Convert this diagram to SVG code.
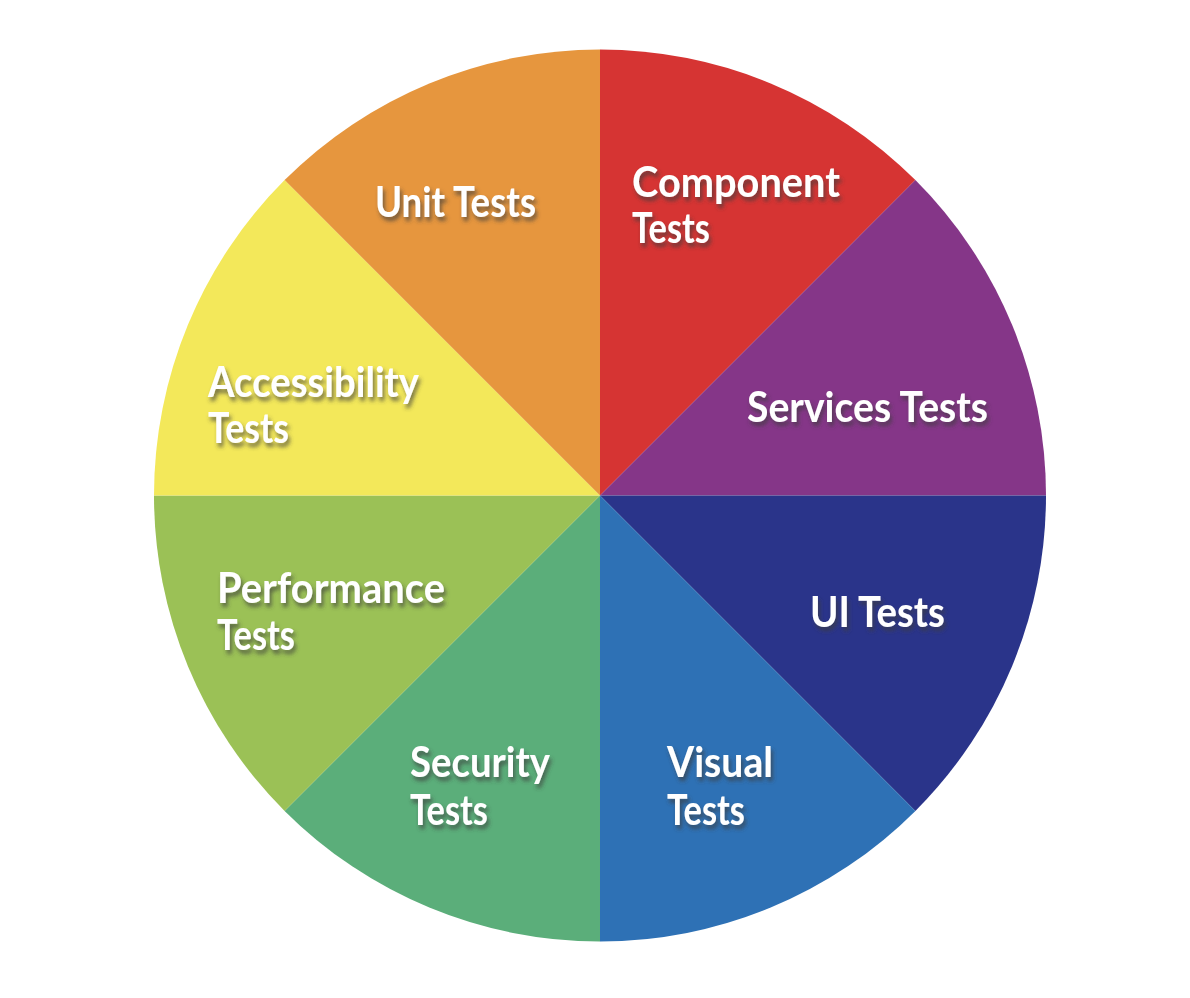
<svg xmlns="http://www.w3.org/2000/svg" width="1190" height="998" viewBox="0 0 1190 998">
  <defs>
    <filter id="sh" x="-10%" y="-20%" width="120%" height="150%">
      <feDropShadow dx="2" dy="4" stdDeviation="2" flood-color="#3a3a3a" flood-opacity="0.7"/>
    </filter>
  </defs>
  <style>
    .lbl { font-family: "Lato", "Liberation Sans", sans-serif; font-weight: 700; font-size: 42px; fill: #ffffff; filter: url(#sh); }
  </style>
  <rect x="0" y="0" width="1190" height="998" fill="#ffffff"/>
  <g id="component">
    <path d="M600,495.5 L600,49.5 A446,446 0 0 1 915.4,180.1 Z" fill="#D63433"/>
    <text class="lbl" x="632" y="197" textLength="208" lengthAdjust="spacingAndGlyphs">Component</text>
    <text class="lbl" x="632" y="243" textLength="78" lengthAdjust="spacingAndGlyphs">Tests</text>
  </g>
  <g id="services">
    <path d="M600,495.5 L915.4,180.1 A446,446 0 0 1 1046,495.5 Z" fill="#853688"/>
    <text class="lbl" x="747" y="422" textLength="241" lengthAdjust="spacingAndGlyphs">Services Tests</text>
  </g>
  <g id="ui">
    <path d="M600,495.5 L1046,495.5 A446,446 0 0 1 915.4,810.9 Z" fill="#2A348A"/>
    <text class="lbl" x="810" y="627" textLength="135" lengthAdjust="spacingAndGlyphs">UI Tests</text>
  </g>
  <g id="visual">
    <path d="M600,495.5 L915.4,810.9 A446,446 0 0 1 600,941.5 Z" fill="#2E71B5"/>
    <text class="lbl" x="667" y="777" textLength="106" lengthAdjust="spacingAndGlyphs">Visual</text>
    <text class="lbl" x="667" y="825" textLength="78" lengthAdjust="spacingAndGlyphs">Tests</text>
  </g>
  <g id="security">
    <path d="M600,495.5 L600,941.5 A446,446 0 0 1 284.6,810.9 Z" fill="#5BAE7A"/>
    <text class="lbl" x="410" y="777" textLength="140" lengthAdjust="spacingAndGlyphs">Security</text>
    <text class="lbl" x="410" y="825" textLength="78" lengthAdjust="spacingAndGlyphs">Tests</text>
  </g>
  <g id="performance">
    <path d="M600,495.5 L284.6,810.9 A446,446 0 0 1 154,495.5 Z" fill="#9BC156"/>
    <text class="lbl" x="217" y="603" textLength="228" lengthAdjust="spacingAndGlyphs">Performance</text>
    <text class="lbl" x="217" y="650" textLength="78" lengthAdjust="spacingAndGlyphs">Tests</text>
  </g>
  <g id="accessibility">
    <path d="M600,495.5 L154,495.5 A446,446 0 0 1 284.6,180.1 Z" fill="#F3E85A"/>
    <text class="lbl" x="208" y="397" textLength="211" lengthAdjust="spacingAndGlyphs">Accessibility</text>
    <text class="lbl" x="208" y="443" textLength="81" lengthAdjust="spacingAndGlyphs">Tests</text>
  </g>
  <g id="unit">
    <path d="M600,495.5 L284.6,180.1 A446,446 0 0 1 600,49.5 Z" fill="#E6963E"/>
    <text class="lbl" x="375" y="217" textLength="161" lengthAdjust="spacingAndGlyphs">Unit Tests</text>
  </g>
  <g id="connectors"></g>
</svg>
